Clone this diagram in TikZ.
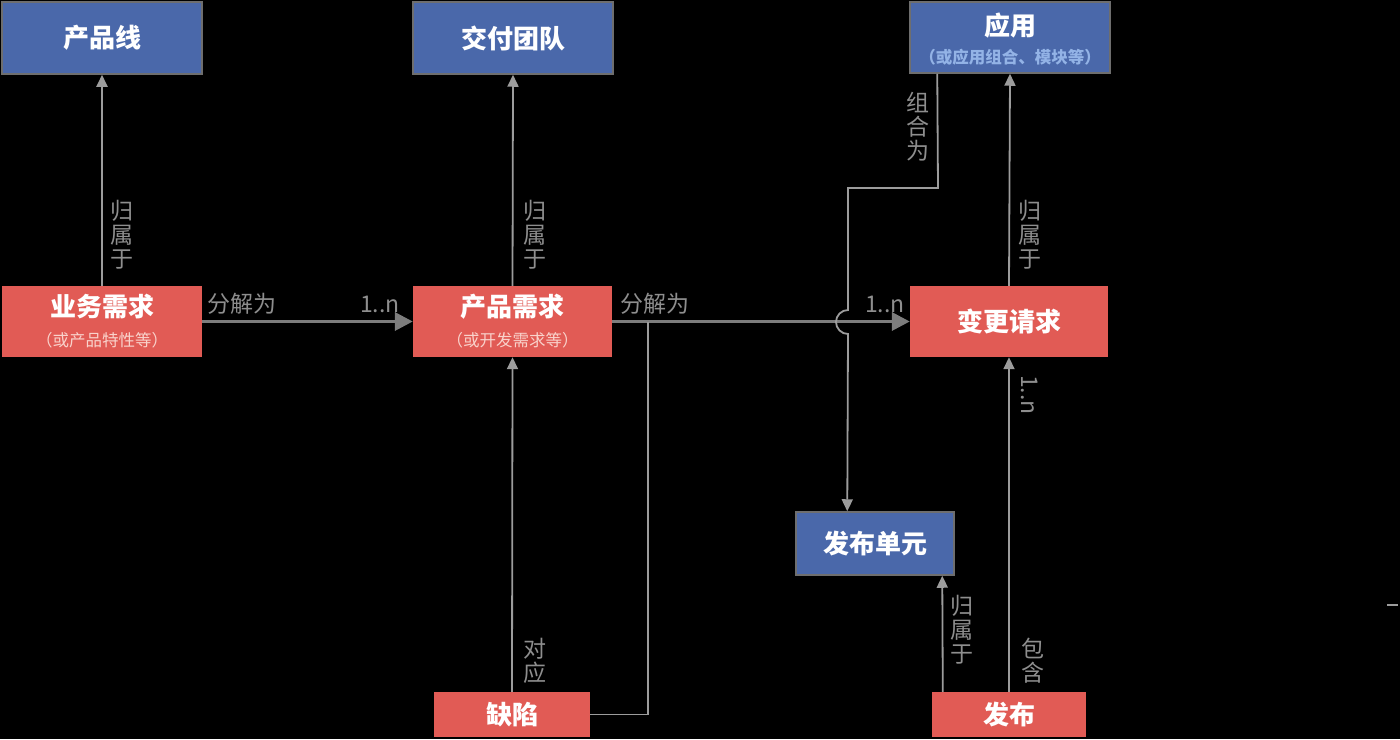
\documentclass[tikz,border=0pt]{standalone}
\usepackage{fontspec}
\setmainfont{Noto Sans CJK SC}
\usetikzlibrary{arrows.meta,calc}
\definecolor{boxblue}{HTML}{4A68AA}
\definecolor{boxred}{HTML}{E15B55}
\definecolor{bordergray}{HTML}{6E6E6E}
\definecolor{linegray}{HTML}{9C9C9C}
\definecolor{thickgray}{HTML}{7D7D7D}
\definecolor{labgray}{HTML}{8E8E8E}
\definecolor{subred}{HTML}{F9D2CB}
\definecolor{subblue}{HTML}{93B3E6}
\begin{document}
\begin{tikzpicture}[x=1pt,y=-1pt,
  titlefont/.style={font=\bfseries\fontsize{26}{30}\selectfont},
  bluebox/.style={draw=bordergray,line width=1.5pt,fill=boxblue,text=white,titlefont,inner sep=0pt,align=center},
  redbox/.style={fill=boxred,text=white,titlefont,inner sep=0pt,align=center},
  title/.style={text=white,titlefont,inner sep=0pt},
  subr/.style={text=subred,font=\fontsize{16.5}{19}\selectfont,inner sep=0pt},
  subb/.style={text=subblue,font=\bfseries\fontsize{16.5}{19}\selectfont,inner sep=0pt},
  lab/.style={text=labgray,font=\fontsize{23}{24}\selectfont,inner sep=0pt,align=center},
  thinarrow/.style={draw=linegray,line width=1.8pt,-{Triangle[width=11pt,length=12pt]}},
  thinline/.style={draw=linegray,line width=1.8pt},
  thickarrow/.style={draw=thickgray,line width=3.5pt,-{Triangle[width=18pt,length=18pt]}}
]
\fill[black] (0,0) rectangle (1400,739);
\useasboundingbox (0,0) rectangle (1400,739);

% boxes
\node[bluebox,minimum width=200pt,minimum height=72pt] (pl) at (102,38) {产品线};
\node[bluebox,minimum width=200pt,minimum height=72pt] (team) at (513,38) {交付团队};
\node[bluebox,minimum width=200pt,minimum height=71pt] (app) at (1010,37.5) {};
\node[title] (appt) at (1010,26) {应用};
\node[subb] (apps) at (1010,57) {（或应用组合、模块等）};

\node[redbox,minimum width=200pt,minimum height=71pt] (biz) at (102,321.5) {};
\node[title] (bizt) at (102,307) {业务需求};
\node[subr] (bizs) at (102,340) {（或产品特性等）};

\node[redbox,minimum width=199pt,minimum height=71pt] (prod) at (512.5,321.5) {};
\node[title] (prodt) at (512.5,307) {产品需求};
\node[subr] (prods) at (512.5,340) {（或开发需求等）};

\node[redbox,minimum width=198pt,minimum height=71pt] (chg) at (1009,321.5) {变更请求};
\node[bluebox,minimum width=158pt,minimum height=63pt] (ru) at (875,543.5) {发布单元};
\node[redbox,minimum width=156pt,minimum height=45pt] (bug) at (512,714.5) {缺陷};
\node[redbox,minimum width=154pt,minimum height=45pt] (rel) at (1009,714.5) {发布};

% coordinates
\coordinate (appout) at ($(app.south west)+(28,0)$);
\coordinate (c1) at (938,188);
\coordinate (c2) at (848,188);
\coordinate (hopA) at (848,310);
\coordinate (ruin) at ($(ru.north west)+(52,0)$);
\coordinate (mj) at (648,322);
\coordinate (relA) at ($(rel.north west)+(11,0)$);
\coordinate (ruout) at ($(ru.south west)+(147,0)$);

% connectors
\draw[thinarrow] (biz.north) -- (pl.south);
\draw[thinarrow] (prod.north) -- (team.south);
\draw[thinarrow] (chg.north) -- (app.south);
\draw[thickarrow] (biz.east) -- (prod.west);
\draw[thickarrow] (prod.east) -- (chg.west);
\draw[thinarrow] (appout) -- (c1) -- (c2) -- (hopA) arc[start angle=90,end angle=270,radius=12pt] -- (ruin);
\draw[thinarrow] (bug.north) -- (prod.south);
\draw[thinline] (bug.east) -| (mj);
\draw[thinarrow] (relA) -- (ruout);
\draw[thinarrow] (rel.north) -- (chg.south);
\coordinate (s1) at (1387,605);
\coordinate (s2) at (1398,605);
\draw[thinline] (s1) -- (s2);

% labels
\node[lab] (l1) at (122,235) {归\\属\\于};
\node[lab] (l2) at (535,235) {归\\属\\于};
\node[lab] (l3) at (1030,235) {归\\属\\于};
\node[lab] (l4) at (918,127) {组\\合\\为};
\node[lab] (l5) at (535,661) {对\\应};
\node[lab] (l6) at (962,630) {归\\属\\于};
\node[lab] (l7) at (1033,661) {包\\含};
\node[lab] (l8) at (242,304) {分解为};
\node[lab] (l9) at (380,304) {1..n};
\node[lab] (l10) at (655,304) {分解为};
\node[lab] (l11) at (885,304) {1..n};
\node[lab,rotate=-90] (l12) at (1030,395) {1..n};
\end{tikzpicture}
\end{document}
